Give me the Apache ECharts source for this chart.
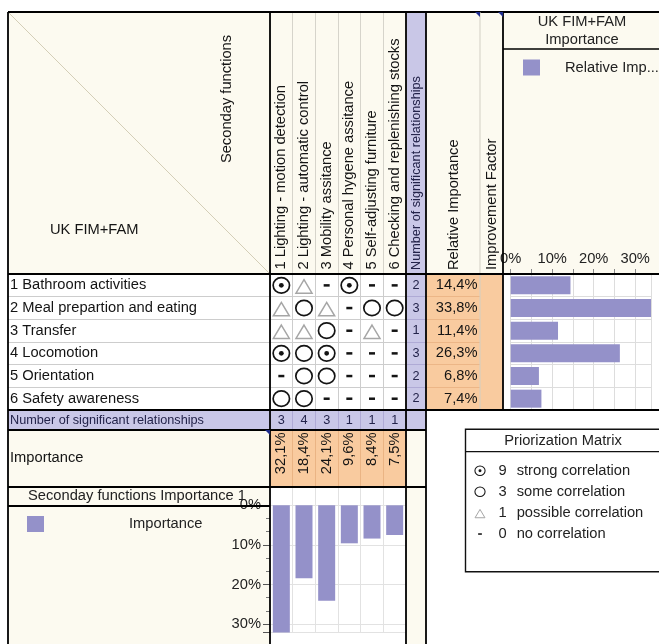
<!DOCTYPE html>
<html>
<head>
<meta charset="utf-8">
<script src="https://cdn.jsdelivr.net/npm/echarts@6/dist/echarts.min.js"></script>
<style>
  html, body { margin: 0; padding: 0; background: #ffffff; }
  #chart { width: 659px; height: 644px; }
</style>
</head>
<body>
<div id="chart"></div>
<script>
// ---- House of quality: UK FIM+FAM primary functions vs. secondary functions ----
const secondaryFunctions = [
  '1 Lighting - motion detection',
  '2 Lighting - automatic control',
  '3 Mobility assitance',
  '4 Personal hygene assitance',
  '5 Self-adjusting furniture',
  '6 Checking and replenishing stocks'
];
const primaryFunctions = [
  '1 Bathroom activities',
  '2 Meal prepartion and eating',
  '3 Transfer',
  '4 Locomotion',
  '5 Orientation',
  '6 Safety awareness'
];
// 9 strong, 3 some, 1 possible, 0 none  (rows = primary, cols = secondary)
const relationMatrix = [
  [9, 1, 0, 9, 0, 0],
  [1, 3, 1, 0, 3, 3],
  [1, 1, 3, 0, 1, 0],
  [9, 3, 9, 0, 0, 0],
  [0, 3, 3, 0, 0, 0],
  [3, 3, 0, 0, 0, 0]
];
const rowSignificant = [2, 3, 1, 3, 2, 2];
const relativeImportance = [14.4, 33.8, 11.4, 26.3, 6.8, 7.4];
const colSignificant = [3, 4, 3, 1, 1, 1];
const functionImportance = [32.1, 18.4, 24.1, 9.6, 8.4, 7.5];
const correlationKey = [
  [9, 'strong correlation'],
  [3, 'some correlation'],
  [1, 'possible correlation'],
  [0, 'no correlation']
];

const FONT = '"Liberation Sans", Arial, Helvetica, sans-serif';
const FS = 14.7;
const FS_SMALL = 12.7;
const INK = '#141414';
const CREAM = '#fcfaf0';
const LILAC = '#c9c7e7';
const PEACH = '#f9cb9f';
const BAR = '#9491c9';
const RULE = '#cdcdcd';

const pct = v => v.toFixed(1).replace('.', ',') + '%';

// symbol for one correlation strength, centred on (cx, cy)
function relationShape(v, cx, cy, s) {
  if (v === 9 || v === 3) {
    const children = [{
      type: 'ellipse',
      shape: { cx: cx, cy: cy, rx: 8.2 * s, ry: 7.7 * s },
      style: { fill: 'none', stroke: INK, lineWidth: Math.max(1, 1.7 * s) }
    }];
    if (v === 9) {
      children.push({ type: 'circle', shape: { cx: cx, cy: cy, r: 2.4 * s }, style: { fill: INK } });
    }
    return { type: 'group', children: children };
  }
  if (v === 1) {
    return {
      type: 'polygon',
      shape: { points: [[cx, cy - 5.6 * s], [cx + 8 * s, cy + 7.8 * s], [cx - 8 * s, cy + 7.8 * s]] },
      style: { fill: 'none', stroke: '#a6a6a6', lineWidth: Math.max(1, 1.5 * s) }
    };
  }
  return {
    type: 'rect',
    shape: { x: cx - 3 * s, y: cy - 1.2 * s, width: 6 * s, height: 2.5 * s },
    style: { fill: INK }
  };
}

function textEl(x, y, text, extra) {
  return Object.assign({
    type: 'text', x: x, y: y,
    style: Object.assign({
      text: text, fill: INK, fontSize: FS, fontFamily: FONT,
      align: 'left', verticalAlign: 'middle'
    }, (extra && extra.style) || {})
  }, extra && extra.rotation ? { rotation: extra.rotation } : {});
}

function line(x1, y1, x2, y2, w, color, z) {
  return {
    type: 'line', z: z === undefined ? 100 : z,
    shape: { x1: x1, y1: y1, x2: x2, y2: y2 },
    style: { stroke: color || '#000', lineWidth: w }
  };
}
function box(x, y, w, h, fill, z) {
  return { type: 'rect', z: z === undefined ? -10 : z, shape: { x: x, y: y, width: w, height: h }, style: { fill: fill } };
}

// ---- fixed table structure ----
const graphics = [
  // cell backgrounds
  box(8, 12, 262, 262, CREAM),
  box(270, 12, 136, 262, CREAM),
  box(406, 12, 20, 262, LILAC),
  box(426, 12, 77, 262, CREAM),
  box(503, 12, 170, 262, CREAM),
  box(406, 274, 20, 136, LILAC),
  box(426, 274, 77, 136, PEACH),
  box(8, 410, 418, 20, LILAC),
  box(8, 430, 262, 57, CREAM),
  box(270, 430, 136, 57, PEACH),
  box(406, 430, 20, 214, CREAM),
  box(8, 487, 262, 157, CREAM),
  // corner diagonal
  line(8, 12, 270, 274, 0.8, '#c9c3a8', -5),
  // header captions
  textEl(227, 99, 'Seconday functions', { rotation: Math.PI / 2, style: { align: 'center' } }),
  textEl(50, 230, 'UK FIM+FAM'),
  textEl(416.5, 270, 'Number of significant relationships', { rotation: Math.PI / 2, style: { fontSize: FS_SMALL, fill: '#23234a' } }),
  textEl(454, 270, 'Relative Importance', { rotation: Math.PI / 2 }),
  textEl(492, 270, 'Improvement Factor', { rotation: Math.PI / 2 }),
  textEl(582, 22, 'UK FIM+FAM', { style: { align: 'center', fill: '#222' } }),
  textEl(582, 40, 'Importance', { style: { align: 'center', fill: '#222' } }),
  textEl(10, 420, 'Number of significant relationships', { style: { fontSize: FS_SMALL, fill: '#23234a' } }),
  textEl(10, 458, 'Importance'),
  textEl(137, 496, 'Seconday functions Importance 1', { style: { align: 'center', fill: '#222' } }),
  // borders
  line(8, 12, 659, 12, 1.8),
  line(8, 12, 8, 644, 1.8),
  line(270, 12, 270, 644, 1.8),
  line(406, 12, 406, 644, 1.8),
  line(426, 12, 426, 644, 1.8),
  line(480, 12, 480, 410, 1, '#d2cfc4'),
  line(503, 12, 503, 410, 1.8),
  line(503, 49, 659, 49, 1.3),
  line(8, 274, 659, 274, 1.8),
  line(8, 410, 659, 410, 1.8),
  line(8, 430, 426, 430, 1.8),
  line(8, 487, 426, 487, 1.8),
  line(8, 506, 270, 506, 1.8),
  // cell note markers
  { type: 'polygon', z: 101, shape: { points: [[475, 12], [480, 12], [480, 17]] }, style: { fill: '#1e2c8c' } },
  { type: 'polygon', z: 101, shape: { points: [[498, 12], [503, 12], [503, 17]] }, style: { fill: '#1e2c8c' } },
  { type: 'polygon', z: 101, shape: { points: [[265, 430], [270, 430], [270, 435]] }, style: { fill: '#1e2c8c' } },
  // correlation key box
  { type: 'rect', z: 20, shape: { x: 465.5, y: 429.3, width: 210, height: 142.4 }, style: { fill: '#fff', stroke: '#111', lineWidth: 1.4 } },
  line(465.5, 451.7, 676, 451.7, 1.2, '#111', 21),
  Object.assign(textEl(563, 441, 'Priorization Matrix', { style: { align: 'center', fill: '#222' } }), { z: 21 })
];
correlationKey.forEach(function (k, i) {
  const y = 470.7 + i * 21.1;
  const sym = relationShape(k[0], 480, y, 0.62);
  sym.z = 21;
  if (sym.type === 'group') sym.children.forEach(function (c) { c.z = 21; });
  graphics.push(sym);
  graphics.push(Object.assign(textEl(502.5, y, String(k[0]), { style: { align: 'center', fill: '#222' } }), { z: 21 }));
  graphics.push(Object.assign(textEl(516.7, y, k[1], { style: { fill: '#222' } }), { z: 21 }));
});

// ---- axes helpers ----
function hiddenCat(gridIndex, data, extra) {
  return Object.assign({
    gridIndex: gridIndex, type: 'category', data: data,
    axisLine: { show: false }, axisTick: { show: false }, axisLabel: { show: false },
    splitLine: { show: false }
  }, extra || {});
}

const relationData = [];
relationMatrix.forEach(function (row, r) {
  row.forEach(function (v, c) { relationData.push([c, r, v]); });
});

function textSeries(xi, data, styleFn) {
  return {
    type: 'custom', xAxisIndex: xi, yAxisIndex: xi, data: data, silent: true,
    renderItem: function (params, api) {
      const p = api.coord([api.value(0), api.value(1)]);
      const size = api.size([1, 1]);
      return styleFn(p, size, api.value(2));
    }
  };
}

const option = {
  animation: false,
  backgroundColor: '#ffffff',
  textStyle: { fontFamily: FONT },
  grid: [
    { left: 270, top: 274, width: 136, height: 136 },          // relationship matrix
    { left: 406, top: 274, width: 20, height: 136 },           // count per primary function
    { left: 426, top: 274, width: 54, height: 136 },           // relative importance
    { left: 510.7, top: 274, width: 140.3, height: 136 },      // relative importance bars
    { left: 270, top: 410, width: 136, height: 20 },           // count per secondary function
    { left: 270, top: 430, width: 136, height: 57 },           // secondary function importance
    { left: 270, top: 505.3, width: 136, height: 127.1 }       // secondary function importance bars
  ],
  legend: [
    {
      data: ['Relative Importance'], left: 523, top: 59.5, padding: 0,
      itemWidth: 17, itemHeight: 16, icon: 'rect', selectedMode: false,
      textStyle: { fontSize: FS, color: '#222', fontFamily: FONT, width: 98, overflow: 'truncate', ellipsis: '...', padding: [0, 0, 0, 20] }
    },
    {
      data: ['Importance'], left: 27, top: 516, padding: 0,
      itemWidth: 17, itemHeight: 16, icon: 'rect', selectedMode: false,
      textStyle: { fontSize: FS, color: '#222', fontFamily: FONT, padding: [0, 0, 0, 80] }
    }
  ],
  xAxis: [
    {
      gridIndex: 0, type: 'category', data: secondaryFunctions, position: 'top',
      axisLine: { show: false },
      axisTick: { show: true, interval: 0, length: 262, lineStyle: { color: '#d6d4cb', width: 1 } },
      axisLabel: { interval: 0, rotate: -90, margin: 4.5, fontSize: FS, fontFamily: FONT, color: INK },
      splitLine: { show: true, interval: 0, lineStyle: { color: RULE } }
    },
    hiddenCat(1, ['n']),
    hiddenCat(2, ['n']),
    {
      gridIndex: 3, type: 'value', position: 'top', min: 0, max: 'dataMax', interval: 5,
      axisLine: { show: false },
      axisTick: { show: true, length: 5, lineStyle: { color: '#8a8a8a' } },
      axisLabel: {
        margin: 8, fontSize: FS, fontFamily: FONT, color: '#222', showMaxLabel: false,
        formatter: function (v) { return v % 10 === 0 ? v + '%' : ''; }
      },
      splitLine: { show: true, lineStyle: { color: '#dddddd' } }
    },
    hiddenCat(4, secondaryFunctions, { splitLine: { show: true, interval: 0, lineStyle: { color: 'rgba(80,70,150,0.22)' } } }),
    hiddenCat(5, secondaryFunctions, { splitLine: { show: true, interval: 0, lineStyle: { color: 'rgba(190,110,50,0.25)' } } }),
    hiddenCat(6, secondaryFunctions, {
      position: 'top',
      axisTick: { show: true, interval: 0, length: 18.3, lineStyle: { color: '#e2e2e2' } },
      splitLine: { show: true, interval: 0, lineStyle: { color: '#e2e2e2' } }
    })
  ],
  yAxis: [
    {
      gridIndex: 0, type: 'category', data: primaryFunctions, inverse: true,
      axisLine: { show: false },
      axisTick: { show: true, interval: 0, length: 262, lineStyle: { color: RULE } },
      axisLabel: { interval: 0, align: 'left', margin: 260, fontSize: FS, fontFamily: FONT, color: INK },
      splitLine: { show: true, interval: 0, lineStyle: { color: RULE } }
    },
    hiddenCat(1, primaryFunctions, { inverse: true, splitLine: { show: true, interval: 0, lineStyle: { color: 'rgba(80,70,150,0.22)' } } }),
    hiddenCat(2, primaryFunctions, { inverse: true, splitLine: { show: true, interval: 0, lineStyle: { color: 'rgba(190,110,50,0.22)' } } }),
    hiddenCat(3, primaryFunctions, { inverse: true, splitLine: { show: true, interval: 0, lineStyle: { color: '#dddddd' } } }),
    hiddenCat(4, ['n']),
    hiddenCat(5, ['n']),
    {
      gridIndex: 6, type: 'value', inverse: true, min: 0, max: 'dataMax', interval: 10,
      axisLine: { show: false },
      axisTick: { show: true, length: 7, lineStyle: { color: '#555' } },
      minorTick: { show: true, splitNumber: 3, length: 4, lineStyle: { color: '#777' } },
      axisLabel: { margin: 9, fontSize: FS, fontFamily: FONT, color: '#222', showMaxLabel: false, formatter: '{value}%' },
      splitLine: { show: true, lineStyle: { color: '#e2e2e2' } }
    }
  ],
  series: [
    {
      type: 'custom', xAxisIndex: 0, yAxisIndex: 0, data: relationData, silent: true,
      renderItem: function (params, api) {
        const p = api.coord([api.value(0), api.value(1)]);
        return relationShape(api.value(2), p[0], p[1], 1);
      }
    },
    textSeries(1, rowSignificant.map(function (v, i) { return [0, i, v]; }), function (p, size, v) {
      return { type: 'text', x: p[0], y: p[1], style: { text: String(v), fill: '#23234a', fontSize: FS_SMALL, fontFamily: FONT, align: 'center', verticalAlign: 'middle' } };
    }),
    textSeries(2, relativeImportance.map(function (v, i) { return [0, i, v]; }), function (p, size, v) {
      return { type: 'text', x: p[0] + size[0] / 2 - 2.5, y: p[1], style: { text: pct(v), fill: INK, fontSize: FS, fontFamily: FONT, align: 'right', verticalAlign: 'middle' } };
    }),
    {
      name: 'Relative Importance', type: 'bar', xAxisIndex: 3, yAxisIndex: 3,
      data: relativeImportance, barWidth: 18, itemStyle: { color: BAR }, silent: true
    },
    textSeries(4, colSignificant.map(function (v, i) { return [i, 0, v]; }), function (p, size, v) {
      return { type: 'text', x: p[0], y: p[1], style: { text: String(v), fill: '#23234a', fontSize: FS_SMALL, fontFamily: FONT, align: 'center', verticalAlign: 'middle' } };
    }),
    textSeries(5, functionImportance.map(function (v, i) { return [i, 0, v]; }), function (p, size, v) {
      return { type: 'text', x: p[0], y: p[1] - size[1] / 2 + 2.5, rotation: Math.PI / 2, style: { text: pct(v), fill: INK, fontSize: FS, fontFamily: FONT, align: 'right', verticalAlign: 'middle' } };
    }),
    {
      name: 'Importance', type: 'bar', xAxisIndex: 6, yAxisIndex: 6,
      data: functionImportance, barWidth: 17, itemStyle: { color: BAR }, silent: true
    }
  ],
  graphic: { elements: graphics }
};

const chart = echarts.init(document.getElementById('chart'), null, { renderer: 'canvas' });
chart.setOption(option);
</script>
</body>
</html>
